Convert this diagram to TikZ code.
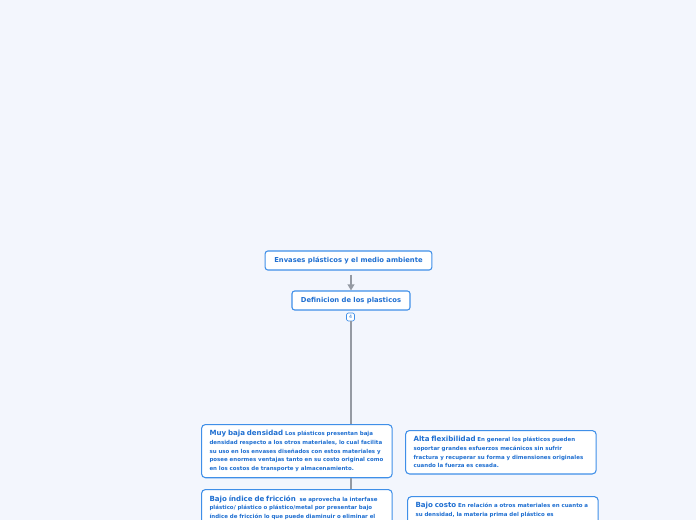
\documentclass[tikz,border=0pt]{standalone}
\usepackage{fontspec}
\setmainfont{DejaVu Sans}
\usetikzlibrary{positioning, arrows.meta}
\definecolor{canvas}{HTML}{F3F6FD}
\definecolor{mmblue}{HTML}{1F6FD1}
\definecolor{mmedge}{HTML}{3F8FE8}
\definecolor{linkgray}{HTML}{959AA3}
\newcommand{\headline}[1]{{\fontsize{5.3}{6.5}\selectfont #1}}

\begin{document}
\begin{tikzpicture}[x=0.75pt, y=-0.75pt,
    topic/.style={draw=mmedge, fill=white, rounded corners=2pt, line width=0.8pt,
      text=mmblue, font=\bfseries\fontsize{5.1}{6}\selectfont,
      minimum height=14.25pt, inner xsep=4pt},
    leaf/.style={draw=mmedge, fill=white, rounded corners=3pt, line width=0.8pt,
      text=mmblue, font=\bfseries\fontsize{4.1}{6.5}\selectfont,
      anchor=north west, align=left, text width=131pt,
      inner xsep=6pt, inner ysep=4.5pt},
    link/.style={draw=linkgray, line width=1.5pt}]
  \fill[canvas] (0,0) rectangle (696,520);
  \clip (0,0) rectangle (696,520);

  \node[topic, minimum width=125pt] (root) at (348.5,260.5)
    {Envases plásticos y el medio ambiente};
  \node[topic, minimum width=88.5pt] (def) at (351,300.5)
    {Definicion de los plasticos};
  \draw[link, -{Triangle[width=5pt,length=4.5pt]}, shorten <=3pt]
    (root.south -| def.north) -- (def.north);

  \node[draw=mmedge, fill=white, rounded corners=1.5pt, line width=0.5pt,
    text=mmblue, font=\fontsize{3.5}{4}\selectfont,
    minimum size=6pt, inner sep=0.5pt] (badge) at (350.5,317) {4};

  % caracteristicas
  \node[leaf] (dens) at (201,424)
    {\headline{Muy baja densidad} Los plásticos presentan baja\\
     densidad respecto a los otros materiales, lo cual facilita\\
     su uso en los envases diseñados con estos materiales y\\
     posee enormes ventajas tanto en su costo original como\\
     en los costos de transporte y almacenamiento.};
  \node[leaf] (flex) at (405,430)
    {\headline{Alta flexibilidad} En general los plásticos pueden\\
     soportar grandes esfuerzos mecánicos sin sufrir\\
     fractura y recuperar su forma y dimensiones originales\\
     cuando la fuerza es cesada.};
  \node[leaf, text depth=30pt] (fric) at (201,489)
    {\headline{Bajo índice de fricción}\ \ se aprovecha la interfase\\
     plástico/ plástico o plástico/metal por presentar bajo\\
     índice de fricción lo que puede diaminuir o eliminar el};
  \node[leaf, text depth=30pt] (costo) at (407,496)
    {\headline{Bajo costo} En relación a otros materiales en cuanto a\\
     su densidad, la materia prima del plástico es};

  \draw[link] (badge.south) -- (badge.south |- dens.north);
  \draw[link] (badge.south |- dens.south) -- (badge.south |- fric.north);
\end{tikzpicture}
\end{document}
